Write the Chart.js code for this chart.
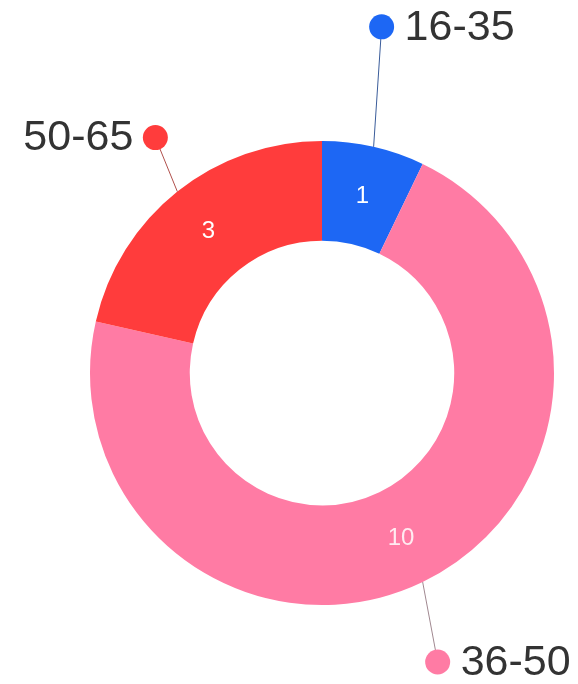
<!DOCTYPE html>
<html>
<head>
<meta charset="utf-8">
<script src="https://cdn.jsdelivr.net/npm/chart.js@4/dist/chart.umd.min.js"></script>
<style>
    html, body { margin: 0; padding: 0; background: #ffffff; }
    canvas { display: block; }
</style>
</head>
<body>
<canvas id="graficoIdade" width="578" height="684"></canvas>
<script>
// dados do gráfico
const faixas = ['16-35', '36-50', '50-65'];
const quantidades = [1, 10, 3];
const cores = ['#1D67F4', '#FF7BA4', '#FF3C3C'];
const coresLinha = ['#3a5c9a', '#a08890', '#b0504c'];

// posição do ponto do rótulo externo, relativo à borda da fatia (layout)
const offsetRotulos = [
    { dx: 8, dy: -120, lado: 'direita' },
    { dx: 15, dy: 80, lado: 'direita' },
    { dx: -22, dy: -54, lado: 'esquerda' }
];

const rotulosPlugin = {
    id: 'rotulosExternos',
    afterDatasetsDraw(chart) {
        const ctx = chart.ctx;
        const meta = chart.getDatasetMeta(0);
        meta.data.forEach((arc, i) => {
            const mid = (arc.startAngle + arc.endAngle) / 2;
            const rMeio = (arc.innerRadius + arc.outerRadius) / 2;

            // valor dentro da fatia
            ctx.save();
            ctx.fillStyle = i === 1 ? 'rgba(255,255,255,0.85)' : '#ffffff';
            ctx.font = '24px "Liberation Sans", Arial, sans-serif';
            ctx.textAlign = 'center';
            ctx.textBaseline = 'middle';
            ctx.fillText(String(quantidades[i]), arc.x + Math.cos(mid) * rMeio, arc.y + Math.sin(mid) * rMeio + 1);
            ctx.restore();

            // linha guia + ponto + texto
            const ex = arc.x + Math.cos(mid) * arc.outerRadius;
            const ey = arc.y + Math.sin(mid) * arc.outerRadius;
            const off = offsetRotulos[i];
            const px = ex + off.dx;
            const py = ey + off.dy;

            ctx.save();
            ctx.strokeStyle = coresLinha[i];
            ctx.lineWidth = 1;
            ctx.beginPath();
            ctx.moveTo(ex, ey);
            ctx.lineTo(px, py);
            ctx.stroke();

            ctx.fillStyle = cores[i];
            ctx.beginPath();
            ctx.arc(px, py, 12.5, 0, Math.PI * 2);
            ctx.fill();

            ctx.fillStyle = '#333333';
            ctx.font = '43px "Liberation Sans", Arial, sans-serif';
            ctx.textBaseline = 'middle';
            if (off.lado === 'direita') {
                ctx.textAlign = 'left';
                ctx.fillText(faixas[i], px + 23, py + 1);
            } else {
                ctx.textAlign = 'right';
                ctx.fillText(faixas[i], px - 22, py + 1);
            }
            ctx.restore();
        });
    }
};

new Chart(document.getElementById('graficoIdade'), {
    type: 'doughnut',
    data: {
        labels: faixas,
        datasets: [{
            data: quantidades,
            backgroundColor: cores,
            borderWidth: 0
        }]
    },
    options: {
        responsive: false,
        animation: false,
        cutout: '57%',
        layout: { padding: { left: 90, right: 24, top: 141, bottom: 79 } },
        plugins: {
            legend: { display: false },
            tooltip: { enabled: false }
        }
    },
    plugins: [rotulosPlugin]
});
</script>
</body>
</html>
